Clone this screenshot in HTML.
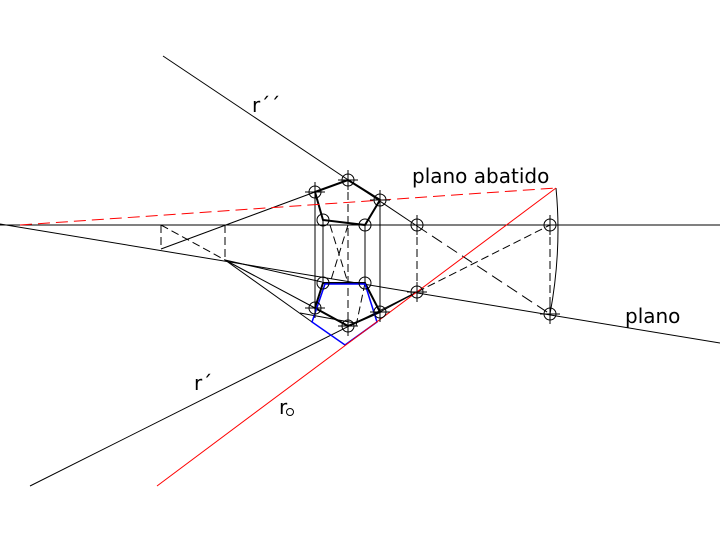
<!DOCTYPE html>
<html><head><style>body{margin:0;background:#fff}svg{display:block}</style></head><body>
<svg width="720" height="540" viewBox="0 0 720 540" xmlns="http://www.w3.org/2000/svg" font-family="DejaVu Sans, sans-serif">
<g stroke="#000" stroke-width="1" fill="none">
<line x1="0" y1="225" x2="720" y2="225"/>
<line x1="0" y1="224" x2="720" y2="343"/>
<line x1="163" y1="56" x2="417" y2="226"/>
<line x1="417" y1="226" x2="550" y2="314" stroke-dasharray="12,6"/>
<line x1="30" y1="486" x2="417" y2="292"/>
<line x1="161" y1="249" x2="315" y2="192"/>
<line x1="225" y1="260" x2="322" y2="282"/>
<line x1="225" y1="260" x2="315" y2="308"/>
<line x1="225" y1="260" x2="312" y2="322"/>
<line x1="380" y1="312" x2="417" y2="292"/>
<g stroke-dasharray="8,4">
<line x1="161" y1="225" x2="161" y2="249"/>
<line x1="225" y1="225" x2="225" y2="260"/>
<line x1="161" y1="225" x2="225" y2="260"/>
<line x1="417" y1="225" x2="417" y2="300"/>
<line x1="550" y1="225" x2="550" y2="320"/>
<line x1="417" y1="292" x2="550" y2="225"/>
<line x1="348" y1="180" x2="348" y2="326"/>
<line x1="330" y1="225" x2="348" y2="283"/>
<line x1="348" y1="225" x2="330" y2="283"/>
<line x1="365" y1="283" x2="356" y2="326"/>
</g>
<path d="M556 188 Q562 250 550 314"/>
<line x1="315" y1="192" x2="315" y2="308"/>
<line x1="323" y1="220" x2="323" y2="283"/>
<line x1="365" y1="225" x2="365" y2="283"/>
<line x1="380" y1="200" x2="380" y2="312"/>
<line x1="300" y1="313" x2="355" y2="323"/>
</g>
<g stroke="#000" stroke-width="2" fill="none">
<polygon points="315,192 348,180 380,200 365,225 323,220"/>
<polygon points="323,283 365,283 380,312 348,326 315,308"/>
</g>
<polygon points="312,322 325,284 365,284 377,322 345,345" fill="none" stroke="#00f" stroke-width="1.5"/>
<line x1="20" y1="225" x2="556" y2="188" stroke="#f00" stroke-dasharray="12,6"/>
<line x1="157" y1="486" x2="556" y2="188" stroke="#f00"/>
<g stroke="#000" stroke-width="1" fill="none">
<circle cx="315" cy="192" r="6"/><circle cx="348" cy="180" r="6"/><circle cx="380" cy="200" r="6"/><circle cx="365" cy="225" r="6"/><circle cx="323" cy="220" r="6"/>
<circle cx="323" cy="283" r="6"/><circle cx="365" cy="283" r="6"/><circle cx="380" cy="312" r="6"/><circle cx="348" cy="326" r="6"/><circle cx="315" cy="308" r="6"/>
<circle cx="417" cy="225" r="6"/><circle cx="417" cy="292" r="6"/><circle cx="550" cy="225" r="6"/><circle cx="550" cy="314" r="6"/>
<path d="M305 192h20M315 182v20M338 180h20M348 170v20M370 200h20M380 190v20M305 308h20M315 298v20M338 326h20M348 316v20M370 312h20M380 302v20M407 292h20M417 282v20M540 314h20M550 304v20M407 225h20M417 215v20M540 225h20M550 215v20"/>
</g>
<g fill="#000" font-size="20">
<text x="252" y="112">r´´</text>
<text x="412" y="183">plano abatido</text>
<text x="625" y="323">plano</text>
<text x="194" y="390">r´</text>
<text x="279" y="414">r</text>
</g>
<circle cx="290" cy="412" r="3.5" fill="none" stroke="#000"/>
</svg>
</body></html>
